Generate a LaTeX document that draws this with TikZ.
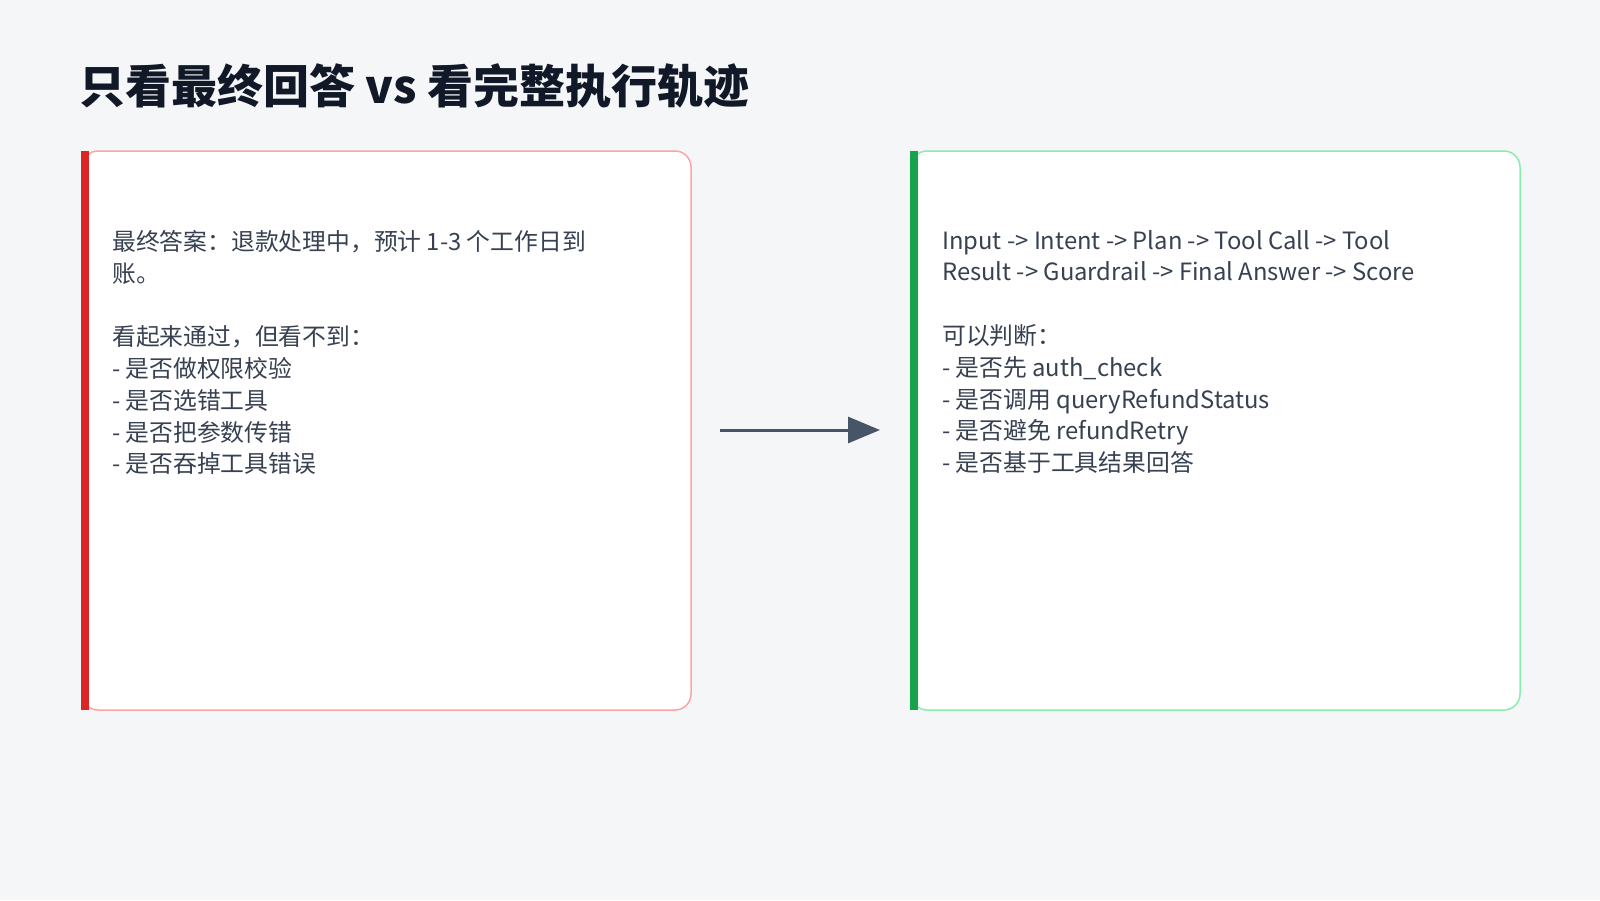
\documentclass[tikz,border=0pt]{standalone}
\usepackage{fontspec}
\setmainfont{Noto Sans CJK SC}
\usetikzlibrary{arrows.meta}
\definecolor{bg}{HTML}{F5F6F8}
\definecolor{titlec}{HTML}{111827}
\definecolor{textc}{HTML}{374151}
\definecolor{redline}{HTML}{FCA5A5}
\definecolor{redbar}{HTML}{DC2626}
\definecolor{greenline}{HTML}{86EFAC}
\definecolor{greenbar}{HTML}{16A34A}
\definecolor{arrowc}{HTML}{475569}
\tikzset{
  card/.style={draw=#1, line width=1.5pt, fill=white, rounded corners=16pt},
  body/.style={anchor=north west, align=left, inner sep=0, text=textc,
    font=\fontsize{23.8}{31.8}\selectfont},
}
\begin{document}
\begin{tikzpicture}[x=1pt, y=-1pt]
    \fill[bg] (0,0) rectangle (1600,900);
    \useasboundingbox (0,0) rectangle (1600,900);

    \node (title) [anchor=base west, inner sep=0, text=titlec,
        font=\fontsize{46}{54}\selectfont\bfseries] at (79,103) {只看最终回答 vs 看完整执行轨迹};

    % answer only
    \draw[card=redline] (82,151) rectangle (691,710);
    \fill[redbar] (81,151) rectangle (89,710);
    \node (answer) [body] at (112,230) {最终答案：退款处理中，预计 1-3 个工作日到\\账。\\[31.8pt]
        看起来通过，但看不到：\\- 是否做权限校验\\- 是否选错工具\\- 是否把参数传错\\- 是否吞掉工具错误};

    % full trace
    \draw[card=greenline] (911,151) rectangle (1520,710);
    \fill[greenbar] (910,151) rectangle (918,710);
    \node (trace) [body] at (942,230) {Input -> Intent -> Plan -> Tool Call -> Tool\\Result -> Guardrail -> Final Answer -> Score\\[31.8pt]
        可以判断：\\- 是否先 auth\_check\\- 是否调用 queryRefundStatus\\- 是否避免 refundRetry\\- 是否基于工具结果回答};

    \coordinate (from) at (720,430);
    \coordinate (to) at (880,430);
    \draw[arrowc, line width=3pt, -{Triangle[length=32pt,width=26pt]}] (from) -- (to);
\end{tikzpicture}
\end{document}
